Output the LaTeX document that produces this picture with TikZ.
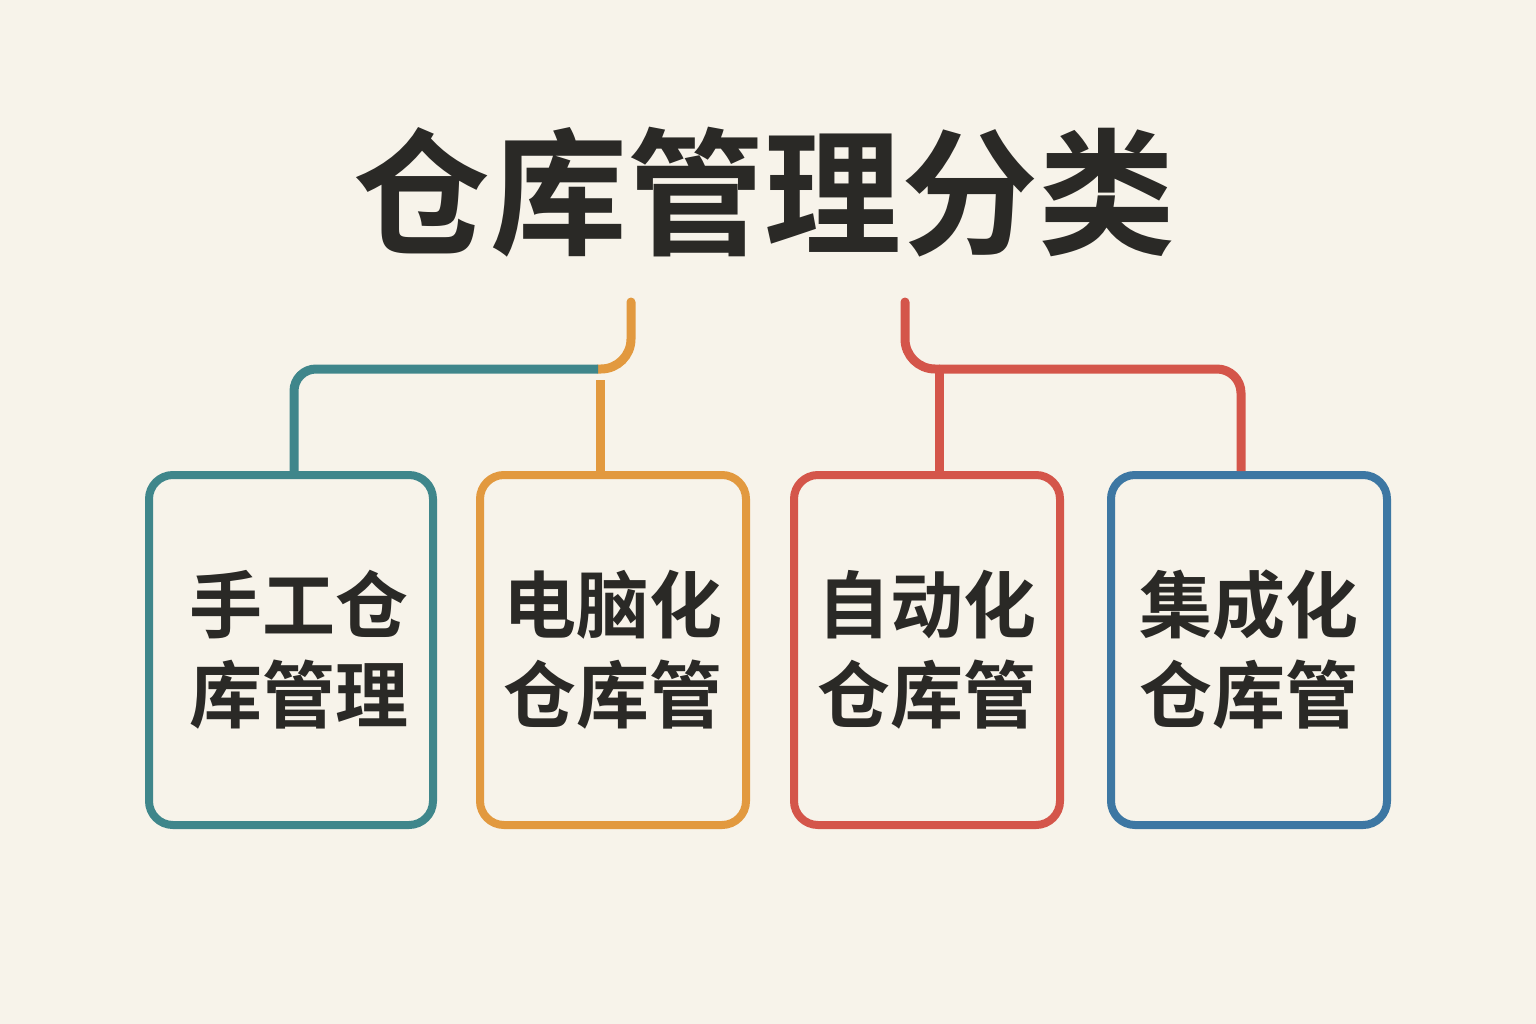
\documentclass[tikz,border=0pt]{standalone}
\usepackage{fontspec}
\newfontfamily\cjk{Noto Sans CJK SC Bold}
\definecolor{bgc}{HTML}{F7F3EA}
\definecolor{tealc}{HTML}{3F868B}
\definecolor{orangec}{HTML}{E2993F}
\definecolor{redc}{HTML}{D4554A}
\definecolor{bluec}{HTML}{3D77A3}
\definecolor{inkc}{HTML}{2A2926}
\tikzset{
  card/.style={draw=#1, line width=8pt, rounded corners=24pt, fill=bgc, text=inkc,
    font=\cjk\fontsize{73}{90}\selectfont, align=center, inner sep=0pt},
  link/.style={draw=#1, line width=9pt, line cap=round},
}
\begin{document}
\begin{tikzpicture}[x=1pt,y=-1pt]
\fill[bgc] (0,0) rectangle (1536,1024);
\useasboundingbox (0,0) rectangle (1536,1024);
\node[text=inkc, font=\cjk\fontsize{137}{140}\selectfont] (title) at (764,192) {仓库管理分类};
\node[card=tealc, minimum width=284pt, minimum height=350pt] (b1) at (291,650) {};
\node[text=inkc, font=\cjk\fontsize{73}{90}\selectfont, align=center, inner sep=0pt] (l1) at (299,650) {手工仓\\库管理};
\node[card=orangec, minimum width=266pt, minimum height=350pt] (b2) at (613,650) {电脑化\\仓库管};
\node[card=redc, minimum width=266pt, minimum height=350pt] (b3) at (927,650) {自动化\\仓库管};
\node[card=bluec, minimum width=276pt, minimum height=350pt] (b4) at (1249,650) {集成化\\仓库管};
% left group
\coordinate (o0) at (631,302);
\coordinate (j1) at (598,369);
\coordinate (t1) at (294,369);
\coordinate (o1) at (600,380);
\draw[link=orangec, rounded corners=30pt] (o0) |- (j1);
\draw[link=tealc, line cap=butt, rounded corners=22pt] (j1) -- (t1) -- (t1 |- b1.north);
\draw[link=orangec, line cap=butt] (o1) -- (o1 |- b2.north);
% right group
\coordinate (r0) at (905,302);
\coordinate (j2) at (939,369);
\coordinate (r2) at (1241,369);
\draw[link=redc, rounded corners=30pt] (r0) |- (j2);
\draw[link=redc, line cap=butt, rounded corners=24pt] (j2) -- (r2) -- (r2 |- b4.north);
\draw[link=redc, line cap=butt] (j2) -- (j2 |- b3.north);
\end{tikzpicture}
\end{document}
